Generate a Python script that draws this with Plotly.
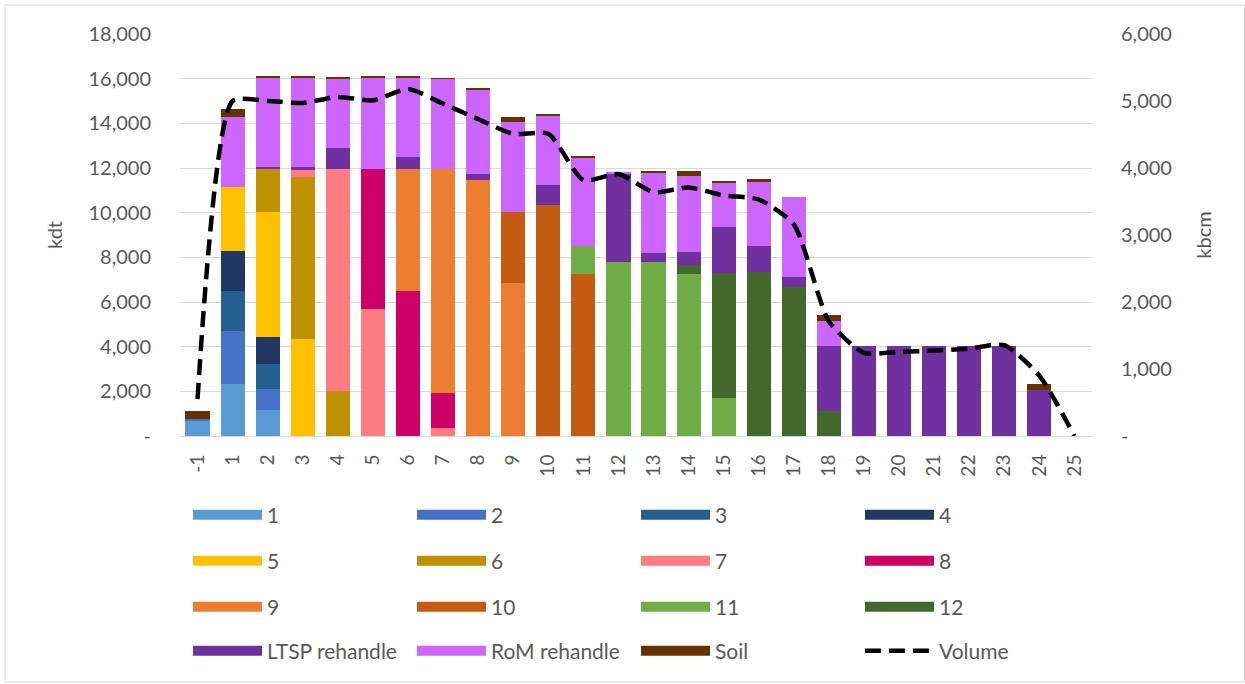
import plotly.graph_objects as go

categories = ["-1"] + [str(i) for i in range(1, 26)]

def row(d):
    return [d.get(c, 0) for c in categories]

s1 = row({"-1": 700, "1": 2350, "2": 1150})
s2 = row({"-1": 50, "1": 2360, "2": 940})
s3 = row({"1": 1790, "2": 1120})
s4 = row({"1": 1800, "2": 1230})
s5 = row({"1": 2870, "2": 5600, "3": 4330})
s6 = row({"2": 1910, "3": 7250, "4": 2020})
s7 = row({"3": 330, "4": 9940, "5": 5680, "7": 370})
s8 = row({"5": 6280, "6": 6500, "7": 1570})
s9 = row({"6": 5460, "7": 10020, "8": 11460, "9": 6830})
s10 = row({"9": 3180, "10": 10340, "11": 7250})
s11 = row({"11": 1240, "12": 7800, "13": 7800, "14": 7250, "15": 1700})
s12 = row({"14": 400, "15": 5580, "16": 7350, "17": 6680, "18": 1110})
ltsp = row({"2": 100, "3": 150, "4": 940, "6": 550, "8": 270, "10": 900, "12": 3930,
            "13": 390, "14": 610, "15": 2080, "16": 1160, "17": 420, "18": 2940,
            "19": 4020, "20": 4020, "21": 4020, "22": 4020, "23": 4020, "24": 2050})
rom = row({"1": 3110, "2": 3980, "3": 3980, "4": 3090, "5": 4080, "6": 3530, "7": 4030,
           "8": 3770, "9": 4040, "10": 3110, "11": 3960, "12": 100, "13": 3570,
           "14": 3390, "15": 1980, "16": 2860, "17": 3610, "18": 1080})
soil = row({"-1": 370, "1": 370, "2": 100, "3": 80, "4": 60, "5": 80, "6": 80, "7": 30,
            "8": 50, "9": 230, "10": 70, "11": 50, "13": 120, "14": 220, "15": 60,
            "16": 120, "18": 270, "24": 270})
volume = [550, 5000, 5000, 4970, 5060, 5010, 5180, 4960, 4730, 4510, 4510, 3820, 3910,
          3640, 3710, 3590, 3530, 3160, 1710, 1240, 1255, 1275, 1305, 1355, 900, 0]

series_names = ["1", "2", "3", "4", "5", "6", "7", "8", "9", "10", "11", "12",
                "LTSP rehandle", "RoM rehandle", "Soil"]
series_values = [s1, s2, s3, s4, s5, s6, s7, s8, s9, s10, s11, s12, ltsp, rom, soil]
series_colors = ["#5B9BD5", "#4472C4", "#255E91", "#203864", "#FFC000", "#BF9000",
                 "#FF7C80", "#CC0066", "#ED7D31", "#C55A11", "#70AD47", "#43682B",
                 "#7030A0", "#CC66FF", "#663300"]

# plot-area geometry (px)
W, H = 1245, 684
L, R, T, B = 180, 153, 34, 248
pw, ph = W - L - R, H - T - B

def px_x(x):
    return (x - L) / pw

def px_y(y):
    return (H - B - y) / ph

FONT = "Lato"
GREY = "#595959"

fig = go.Figure()
legend_ids = ["legend", "legend2", "legend3", "legend4"]
for i, (name, vals, col) in enumerate(zip(series_names, series_values, series_colors)):
    fig.add_trace(go.Bar(x=categories, y=vals, name=name, marker_color=col,
                         marker_line_width=0, showlegend=False, legendgroup=name))
    fig.add_trace(go.Scatter(x=[None], y=[None], mode="lines", name=name,
                             line=dict(color=col, width=10), legendgroup=name,
                             legend=legend_ids[i // 4], hoverinfo="skip"))

fig.add_trace(go.Scatter(x=categories, y=volume, name="Volume", yaxis="y2", mode="lines",
                         line=dict(color="black", width=4.5, dash="16px,8px",
                                   shape="spline", smoothing=0.6),
                         legend="legend4"))

row_y = [515, 561, 607, 651]
legend_common = dict(orientation="h", x=px_x(188), xanchor="left", yanchor="middle",
                     entrywidth=140, entrywidthmode="pixels", itemwidth=69,
                     font=dict(family=FONT, size=21, color=GREY),
                     bgcolor="rgba(0,0,0,0)", traceorder="normal")
legends = {}
for lid, yy in zip(legend_ids, row_y):
    legends[lid] = dict(legend_common, y=px_y(yy))

fig.update_layout(
    width=W, height=H,
    margin=dict(l=L, r=R, t=T, b=B, autoexpand=False),
    paper_bgcolor="white", plot_bgcolor="white",
    barmode="stack", bargap=0.31,
    font=dict(family=FONT, size=20, color=GREY),
    xaxis=dict(type="category", tickangle=-90, ticks="outside", ticklen=10,
               tickcolor="rgba(0,0,0,0)", tickfont=dict(size=19, color=GREY),
               showline=True, linecolor="#d9d9d9", showgrid=False),
    yaxis=dict(range=[0, 18000], tickvals=list(range(0, 18001, 2000)),
               ticktext=["-"] + [f"{v:,}" for v in range(2000, 18001, 2000)],
               showgrid=True, gridcolor="#d9d9d9", gridwidth=1, zeroline=False,
               ticks="outside", ticklen=24, tickcolor="rgba(0,0,0,0)",
               tickfont=dict(size=20, color=GREY),
               title=dict(text="kdt", font=dict(size=20, color=GREY), standoff=20)),
    yaxis2=dict(range=[0, 6000], overlaying="y", side="right",
                tickvals=list(range(0, 6001, 1000)),
                ticktext=["-"] + [f"{v:,}" for v in range(1000, 6001, 1000)],
                showgrid=False, zeroline=False,
                ticks="outside", ticklen=24, tickcolor="rgba(0,0,0,0)",
                tickfont=dict(size=20, color=GREY),
                title=dict(text="kbcm", font=dict(size=20, color=GREY), standoff=26)),
    shapes=[dict(type="rect", xref="paper", yref="paper",
                 x0=px_x(5), x1=px_x(1244.5), y0=px_y(682), y1=px_y(5),
                 line=dict(color="#d9d9d9", width=1), layer="below")],
    **legends,
)

fig.write_html("out.html", config={"displayModeBar": False},
               post_script="document.body.style.margin='0';")
